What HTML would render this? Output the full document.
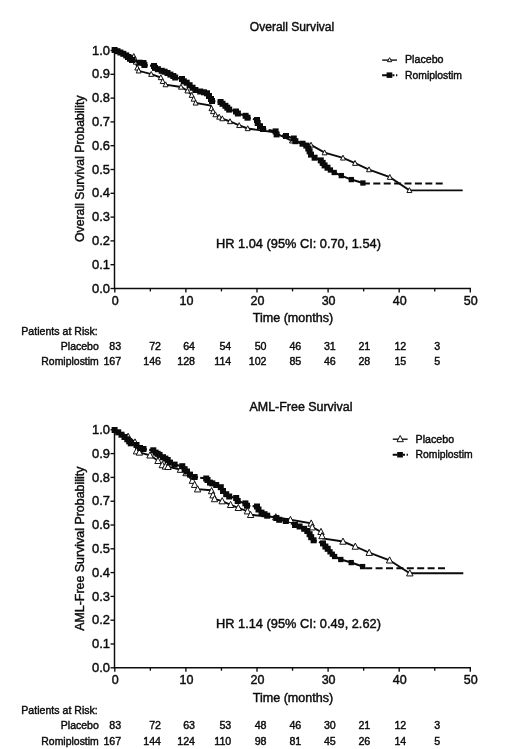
<!DOCTYPE html>
<html lang="en"><head><meta charset="utf-8"><title>Survival</title>
<style>
html,body{margin:0;padding:0;background:#fff}
body{width:520px;height:749px;overflow:hidden}
svg{display:block;font-family:"Liberation Sans",Arial,sans-serif;filter:blur(.35px)}
text{fill:#0c0c0c;stroke:#0c0c0c;stroke-width:.42px}
</style></head><body>
<svg width="520" height="749" viewBox="0 0 520 749">
<rect width="520" height="749" fill="#fff"/>
<text x="292" y="30.8" text-anchor="middle" font-size="12" textLength="84.5" lengthAdjust="spacingAndGlyphs">Overall Survival</text>
<path d="M114.5,50.0 V288.5 H471.0" fill="none" stroke="#0c0c0c" stroke-width="1.45"/>
<path d="M110.5,288.50 H115.0" stroke="#0c0c0c" stroke-width="1.35"/>
<text x="110.0" y="292.60" text-anchor="end" font-size="12.5" textLength="18" lengthAdjust="spacingAndGlyphs">0.0</text>
<path d="M110.5,264.70 H115.0" stroke="#0c0c0c" stroke-width="1.35"/>
<text x="110.0" y="268.80" text-anchor="end" font-size="12.5" textLength="18" lengthAdjust="spacingAndGlyphs">0.1</text>
<path d="M110.5,240.90 H115.0" stroke="#0c0c0c" stroke-width="1.35"/>
<text x="110.0" y="245.00" text-anchor="end" font-size="12.5" textLength="18" lengthAdjust="spacingAndGlyphs">0.2</text>
<path d="M110.5,217.10 H115.0" stroke="#0c0c0c" stroke-width="1.35"/>
<text x="110.0" y="221.20" text-anchor="end" font-size="12.5" textLength="18" lengthAdjust="spacingAndGlyphs">0.3</text>
<path d="M110.5,193.30 H115.0" stroke="#0c0c0c" stroke-width="1.35"/>
<text x="110.0" y="197.40" text-anchor="end" font-size="12.5" textLength="18" lengthAdjust="spacingAndGlyphs">0.4</text>
<path d="M110.5,169.50 H115.0" stroke="#0c0c0c" stroke-width="1.35"/>
<text x="110.0" y="173.60" text-anchor="end" font-size="12.5" textLength="18" lengthAdjust="spacingAndGlyphs">0.5</text>
<path d="M110.5,145.70 H115.0" stroke="#0c0c0c" stroke-width="1.35"/>
<text x="110.0" y="149.80" text-anchor="end" font-size="12.5" textLength="18" lengthAdjust="spacingAndGlyphs">0.6</text>
<path d="M110.5,121.90 H115.0" stroke="#0c0c0c" stroke-width="1.35"/>
<text x="110.0" y="126.00" text-anchor="end" font-size="12.5" textLength="18" lengthAdjust="spacingAndGlyphs">0.7</text>
<path d="M110.5,98.10 H115.0" stroke="#0c0c0c" stroke-width="1.35"/>
<text x="110.0" y="102.20" text-anchor="end" font-size="12.5" textLength="18" lengthAdjust="spacingAndGlyphs">0.8</text>
<path d="M110.5,74.30 H115.0" stroke="#0c0c0c" stroke-width="1.35"/>
<text x="110.0" y="78.40" text-anchor="end" font-size="12.5" textLength="18" lengthAdjust="spacingAndGlyphs">0.9</text>
<path d="M110.5,50.50 H115.0" stroke="#0c0c0c" stroke-width="1.35"/>
<text x="110.0" y="54.60" text-anchor="end" font-size="12.5" textLength="18" lengthAdjust="spacingAndGlyphs">1.0</text>
<path d="M114.80,288.5 v4" stroke="#0c0c0c" stroke-width="1.35"/>
<text x="115.30" y="304.6" text-anchor="middle" font-size="12.5">0</text>
<path d="M150.35,288.5 v2.9" stroke="#0c0c0c" stroke-width="1.35"/>
<path d="M185.90,288.5 v4" stroke="#0c0c0c" stroke-width="1.35"/>
<text x="186.40" y="304.6" text-anchor="middle" font-size="12.5">10</text>
<path d="M221.45,288.5 v2.9" stroke="#0c0c0c" stroke-width="1.35"/>
<path d="M257.00,288.5 v4" stroke="#0c0c0c" stroke-width="1.35"/>
<text x="257.50" y="304.6" text-anchor="middle" font-size="12.5">20</text>
<path d="M292.55,288.5 v2.9" stroke="#0c0c0c" stroke-width="1.35"/>
<path d="M328.10,288.5 v4" stroke="#0c0c0c" stroke-width="1.35"/>
<text x="328.60" y="304.6" text-anchor="middle" font-size="12.5">30</text>
<path d="M363.65,288.5 v2.9" stroke="#0c0c0c" stroke-width="1.35"/>
<path d="M399.20,288.5 v4" stroke="#0c0c0c" stroke-width="1.35"/>
<text x="399.70" y="304.6" text-anchor="middle" font-size="12.5">40</text>
<path d="M434.75,288.5 v2.9" stroke="#0c0c0c" stroke-width="1.35"/>
<path d="M470.30,288.5 v4" stroke="#0c0c0c" stroke-width="1.35"/>
<text x="470.80" y="304.6" text-anchor="middle" font-size="12.5">50</text>
<text x="293.0" y="321.9" text-anchor="middle" font-size="12" textLength="80.4" lengthAdjust="spacingAndGlyphs">Time (months)</text>
<text transform="translate(84,168.7) rotate(-90)" text-anchor="middle" font-size="12" textLength="146.6" lengthAdjust="spacingAndGlyphs">Overall Survival Probability</text>
<text x="216.1" y="248.0" font-size="12.2" textLength="164.8" lengthAdjust="spacingAndGlyphs">HR 1.04 (95% CI: 0.70, 1.54)</text>
<polyline points="115.0,50.5 133.8,56.3 134.8,59.2 135.8,62.0 137.3,67.9 138.7,70.8 151.2,74.2 160.8,77.5 162.7,81.3 165.6,84.6 181.0,87.0 187.4,90.8 191.7,95.2 193.6,99.0 195.6,102.9 210.8,105.6 211.5,108.5 213.0,111.5 215.4,114.6 219.2,117.0 222.3,118.6 230.0,121.5 239.2,125.4 247.7,128.5 272.7,132.0 292.0,140.8 311.0,145.0 324.6,152.7 343.0,157.9 355.0,163.2 369.0,169.6 389.8,177.2 409.4,190.4 462.7,190.4" fill="none" stroke="#0c0c0c" stroke-width="1.9"/>
<path d="M133.8,53.56 l2.5,4.9 h-5.0z" fill="#fff" stroke="#111" stroke-width="1"/>
<path d="M134.8,56.46 l2.5,4.9 h-5.0z" fill="#fff" stroke="#111" stroke-width="1"/>
<path d="M135.8,59.26 l2.5,4.9 h-5.0z" fill="#fff" stroke="#111" stroke-width="1"/>
<path d="M137.3,65.16 l2.5,4.9 h-5.0z" fill="#fff" stroke="#111" stroke-width="1"/>
<path d="M138.7,68.06 l2.5,4.9 h-5.0z" fill="#fff" stroke="#111" stroke-width="1"/>
<path d="M151.2,71.46 l2.5,4.9 h-5.0z" fill="#fff" stroke="#111" stroke-width="1"/>
<path d="M160.8,74.76 l2.5,4.9 h-5.0z" fill="#fff" stroke="#111" stroke-width="1"/>
<path d="M162.7,78.56 l2.5,4.9 h-5.0z" fill="#fff" stroke="#111" stroke-width="1"/>
<path d="M165.6,81.86 l2.5,4.9 h-5.0z" fill="#fff" stroke="#111" stroke-width="1"/>
<path d="M181.0,84.26 l2.5,4.9 h-5.0z" fill="#fff" stroke="#111" stroke-width="1"/>
<path d="M187.4,88.06 l2.5,4.9 h-5.0z" fill="#fff" stroke="#111" stroke-width="1"/>
<path d="M191.7,92.46 l2.5,4.9 h-5.0z" fill="#fff" stroke="#111" stroke-width="1"/>
<path d="M193.6,96.26 l2.5,4.9 h-5.0z" fill="#fff" stroke="#111" stroke-width="1"/>
<path d="M195.6,100.16 l2.5,4.9 h-5.0z" fill="#fff" stroke="#111" stroke-width="1"/>
<path d="M211.5,105.76 l2.5,4.9 h-5.0z" fill="#fff" stroke="#111" stroke-width="1"/>
<path d="M213.0,108.76 l2.5,4.9 h-5.0z" fill="#fff" stroke="#111" stroke-width="1"/>
<path d="M215.4,111.86 l2.5,4.9 h-5.0z" fill="#fff" stroke="#111" stroke-width="1"/>
<path d="M219.2,114.26 l2.5,4.9 h-5.0z" fill="#fff" stroke="#111" stroke-width="1"/>
<path d="M222.3,115.86 l2.5,4.9 h-5.0z" fill="#fff" stroke="#111" stroke-width="1"/>
<path d="M230.0,118.76 l2.5,4.9 h-5.0z" fill="#fff" stroke="#111" stroke-width="1"/>
<path d="M239.2,122.66 l2.5,4.9 h-5.0z" fill="#fff" stroke="#111" stroke-width="1"/>
<path d="M247.7,125.76 l2.5,4.9 h-5.0z" fill="#fff" stroke="#111" stroke-width="1"/>
<path d="M292.0,138.06 l2.5,4.9 h-5.0z" fill="#fff" stroke="#111" stroke-width="1"/>
<path d="M311.0,142.26 l2.5,4.9 h-5.0z" fill="#fff" stroke="#111" stroke-width="1"/>
<path d="M324.6,149.96 l2.5,4.9 h-5.0z" fill="#fff" stroke="#111" stroke-width="1"/>
<path d="M343.0,155.16 l2.5,4.9 h-5.0z" fill="#fff" stroke="#111" stroke-width="1"/>
<path d="M355.0,160.46 l2.5,4.9 h-5.0z" fill="#fff" stroke="#111" stroke-width="1"/>
<path d="M369.0,166.86 l2.5,4.9 h-5.0z" fill="#fff" stroke="#111" stroke-width="1"/>
<path d="M389.8,174.46 l2.5,4.9 h-5.0z" fill="#fff" stroke="#111" stroke-width="1"/>
<path d="M409.4,187.66 l2.5,4.9 h-5.0z" fill="#fff" stroke="#111" stroke-width="1"/>
<path d="M114.6,50.0L117.5,51.2M117.5,51.2L120.4,52.5M120.4,52.5L123.3,53.8M123.3,53.8L126.2,55.4M126.2,55.4L128.0,57.0M128.0,57.0L130.0,58.8M130.0,58.8L132.0,60.0M132.0,60.0L139.6,62.7M139.6,62.7L143.5,63.0M143.5,63.0L144.4,65.0M144.4,65.0L147.8,65.4M150.0,65.6L154.0,66.0M154.0,66.0L155.0,67.9M155.0,67.9L157.9,69.2M157.9,69.2L161.7,70.8M161.7,70.8L164.6,71.7M164.6,71.7L167.5,73.0M167.5,73.0L170.4,74.6M170.4,74.6L173.3,76.0M173.3,76.0L175.2,77.5M175.2,77.5L182.0,79.0M182.0,79.0L183.8,81.3M183.8,81.3L186.7,82.7M186.7,82.7L189.6,85.2M189.6,85.2L192.5,87.7M192.5,87.7L195.4,90.0M195.4,90.0L200.2,91.5M200.2,91.5L204.0,92.3M204.0,92.3L207.0,93.3M207.0,93.3L209.0,96.0M209.0,96.0L211.0,99.0M211.0,99.0L212.0,101.0M212.0,101.0L215.4,101.4M217.6,101.6L220.6,102.0M220.6,102.0L222.5,103.8M222.5,103.8L225.4,105.8M225.4,105.8L227.3,107.7M227.3,107.7L229.2,109.6M229.2,109.6L236.0,111.5M236.0,111.5L237.9,113.5M237.9,113.5L245.6,115.8M245.6,115.8L247.5,117.7M247.5,117.7L250.8,118.5M252.9,119.0L257.0,120.0M257.0,120.0L257.7,123.0M257.7,123.0L260.0,126.2M260.0,126.2L263.0,129.0M263.0,129.0L266.3,129.6M268.5,130.0L275.6,131.4M275.6,131.4L276.6,134.4M276.6,134.4L280.0,135.0M282.1,135.3L286.0,136.0M286.0,136.0L293.8,138.5M293.8,138.5L295.4,141.2M295.4,141.2L302.5,143.7M302.5,143.7L306.3,145.6M306.3,145.6L308.3,148.5M308.3,148.5L309.6,151.3M309.6,151.3L311.0,154.6M311.0,154.6L314.6,157.7M314.6,157.7L320.8,160.4M320.8,160.4L322.7,162.9M322.7,162.9L324.6,165.4M324.6,165.4L327.5,167.7M327.5,167.7L330.4,170.0M330.4,170.0L334.2,172.5M334.2,172.5L341.3,175.6M341.3,175.6L351.3,179.6M351.3,179.6L362.9,183.0" fill="none" stroke="#0a0a0a" stroke-width="2.1"/>
<path d="M362.9,183.4 H442.7" stroke="#0a0a0a" stroke-width="2" stroke-dasharray="7 3.4" fill="none"/>
<rect x="111.60" y="47.00" width="6.0" height="6.0" fill="#0a0a0a"/>
<rect x="114.50" y="48.20" width="6.0" height="6.0" fill="#0a0a0a"/>
<rect x="117.40" y="49.50" width="6.0" height="6.0" fill="#0a0a0a"/>
<rect x="120.30" y="50.80" width="6.0" height="6.0" fill="#0a0a0a"/>
<rect x="123.20" y="52.40" width="6.0" height="6.0" fill="#0a0a0a"/>
<rect x="125.00" y="54.00" width="6.0" height="6.0" fill="#0a0a0a"/>
<rect x="127.00" y="55.80" width="6.0" height="6.0" fill="#0a0a0a"/>
<rect x="129.00" y="57.00" width="6.0" height="6.0" fill="#0a0a0a"/>
<rect x="136.60" y="59.70" width="6.0" height="6.0" fill="#0a0a0a"/>
<rect x="140.50" y="60.00" width="6.0" height="6.0" fill="#0a0a0a"/>
<rect x="141.40" y="62.00" width="6.0" height="6.0" fill="#0a0a0a"/>
<rect x="151.00" y="63.00" width="6.0" height="6.0" fill="#0a0a0a"/>
<rect x="152.00" y="64.90" width="6.0" height="6.0" fill="#0a0a0a"/>
<rect x="154.90" y="66.20" width="6.0" height="6.0" fill="#0a0a0a"/>
<rect x="158.70" y="67.80" width="6.0" height="6.0" fill="#0a0a0a"/>
<rect x="161.60" y="68.70" width="6.0" height="6.0" fill="#0a0a0a"/>
<rect x="164.50" y="70.00" width="6.0" height="6.0" fill="#0a0a0a"/>
<rect x="167.40" y="71.60" width="6.0" height="6.0" fill="#0a0a0a"/>
<rect x="170.30" y="73.00" width="6.0" height="6.0" fill="#0a0a0a"/>
<rect x="172.20" y="74.50" width="6.0" height="6.0" fill="#0a0a0a"/>
<rect x="179.00" y="76.00" width="6.0" height="6.0" fill="#0a0a0a"/>
<rect x="180.80" y="78.30" width="6.0" height="6.0" fill="#0a0a0a"/>
<rect x="183.70" y="79.70" width="6.0" height="6.0" fill="#0a0a0a"/>
<rect x="186.60" y="82.20" width="6.0" height="6.0" fill="#0a0a0a"/>
<rect x="189.50" y="84.70" width="6.0" height="6.0" fill="#0a0a0a"/>
<rect x="192.40" y="87.00" width="6.0" height="6.0" fill="#0a0a0a"/>
<rect x="197.20" y="88.50" width="6.0" height="6.0" fill="#0a0a0a"/>
<rect x="201.00" y="89.30" width="6.0" height="6.0" fill="#0a0a0a"/>
<rect x="204.00" y="90.30" width="6.0" height="6.0" fill="#0a0a0a"/>
<rect x="206.00" y="93.00" width="6.0" height="6.0" fill="#0a0a0a"/>
<rect x="208.00" y="96.00" width="6.0" height="6.0" fill="#0a0a0a"/>
<rect x="209.00" y="98.00" width="6.0" height="6.0" fill="#0a0a0a"/>
<rect x="217.60" y="99.00" width="6.0" height="6.0" fill="#0a0a0a"/>
<rect x="219.50" y="100.80" width="6.0" height="6.0" fill="#0a0a0a"/>
<rect x="222.40" y="102.80" width="6.0" height="6.0" fill="#0a0a0a"/>
<rect x="224.30" y="104.70" width="6.0" height="6.0" fill="#0a0a0a"/>
<rect x="226.20" y="106.60" width="6.0" height="6.0" fill="#0a0a0a"/>
<rect x="233.00" y="108.50" width="6.0" height="6.0" fill="#0a0a0a"/>
<rect x="234.90" y="110.50" width="6.0" height="6.0" fill="#0a0a0a"/>
<rect x="242.60" y="112.80" width="6.0" height="6.0" fill="#0a0a0a"/>
<rect x="244.50" y="114.70" width="6.0" height="6.0" fill="#0a0a0a"/>
<rect x="254.00" y="117.00" width="6.0" height="6.0" fill="#0a0a0a"/>
<rect x="254.70" y="120.00" width="6.0" height="6.0" fill="#0a0a0a"/>
<rect x="257.00" y="123.20" width="6.0" height="6.0" fill="#0a0a0a"/>
<rect x="260.00" y="126.00" width="6.0" height="6.0" fill="#0a0a0a"/>
<rect x="272.60" y="128.40" width="6.0" height="6.0" fill="#0a0a0a"/>
<rect x="273.60" y="131.40" width="6.0" height="6.0" fill="#0a0a0a"/>
<rect x="283.00" y="133.00" width="6.0" height="6.0" fill="#0a0a0a"/>
<rect x="290.80" y="135.50" width="6.0" height="6.0" fill="#0a0a0a"/>
<rect x="292.40" y="138.20" width="6.0" height="6.0" fill="#0a0a0a"/>
<rect x="299.50" y="140.70" width="6.0" height="6.0" fill="#0a0a0a"/>
<rect x="303.30" y="142.60" width="6.0" height="6.0" fill="#0a0a0a"/>
<rect x="305.30" y="145.50" width="6.0" height="6.0" fill="#0a0a0a"/>
<rect x="306.60" y="148.30" width="6.0" height="6.0" fill="#0a0a0a"/>
<rect x="308.00" y="151.60" width="6.0" height="6.0" fill="#0a0a0a"/>
<rect x="311.60" y="154.70" width="6.0" height="6.0" fill="#0a0a0a"/>
<rect x="317.80" y="157.40" width="6.0" height="6.0" fill="#0a0a0a"/>
<rect x="319.70" y="159.90" width="6.0" height="6.0" fill="#0a0a0a"/>
<rect x="321.60" y="162.40" width="6.0" height="6.0" fill="#0a0a0a"/>
<rect x="324.50" y="164.70" width="6.0" height="6.0" fill="#0a0a0a"/>
<rect x="327.75" y="167.35" width="5.3" height="5.3" fill="#0a0a0a"/>
<rect x="331.55" y="169.85" width="5.3" height="5.3" fill="#0a0a0a"/>
<rect x="338.65" y="172.95" width="5.3" height="5.3" fill="#0a0a0a"/>
<rect x="348.65" y="176.95" width="5.3" height="5.3" fill="#0a0a0a"/>
<rect x="360.25" y="180.35" width="5.3" height="5.3" fill="#0a0a0a"/>
<path d="M382.20000000000005,60.1 h14.8" stroke="#111" stroke-width="1.4"/>
<path d="M389.6,57.70 l2.15,4.0 h-4.3z" fill="#fff" stroke="#111" stroke-width="1"/>
<text x="405.0" y="63.1" font-size="10.67" textLength="38.5" lengthAdjust="spacingAndGlyphs">Placebo</text>
<path d="M382.1,75.2 h5 M392.40000000000003,75.2 h2 M396.0,75.2 h1.3" stroke="#0a0a0a" stroke-width="2"/>
<rect x="386.6" y="72.4" width="5.7" height="5.5" fill="#0a0a0a"/>
<text x="405.0" y="78.7" font-size="10.67" textLength="57" lengthAdjust="spacingAndGlyphs">Romiplostim</text>
<text x="21.3" y="334.6" font-size="10.67" textLength="76.5" lengthAdjust="spacingAndGlyphs">Patients at Risk:</text>
<text x="98.8" y="349.6" text-anchor="end" font-size="10.67" textLength="38" lengthAdjust="spacingAndGlyphs">Placebo</text>
<text x="98.8" y="365.4" text-anchor="end" font-size="10.67" textLength="57.5" lengthAdjust="spacingAndGlyphs">Romiplostim</text>
<text x="121.2" y="349.6" text-anchor="end" font-size="10.67">83</text>
<text x="121.2" y="365.4" text-anchor="end" font-size="10.67">167</text>
<text x="161" y="349.6" text-anchor="end" font-size="10.67">72</text>
<text x="161" y="365.4" text-anchor="end" font-size="10.67">146</text>
<text x="195" y="349.6" text-anchor="end" font-size="10.67">64</text>
<text x="195" y="365.4" text-anchor="end" font-size="10.67">128</text>
<text x="231.3" y="349.6" text-anchor="end" font-size="10.67">54</text>
<text x="231.3" y="365.4" text-anchor="end" font-size="10.67">114</text>
<text x="266.5" y="349.6" text-anchor="end" font-size="10.67">50</text>
<text x="266.5" y="365.4" text-anchor="end" font-size="10.67">102</text>
<text x="301.3" y="349.6" text-anchor="end" font-size="10.67">46</text>
<text x="301.3" y="365.4" text-anchor="end" font-size="10.67">85</text>
<text x="335.8" y="349.6" text-anchor="end" font-size="10.67">31</text>
<text x="335.8" y="365.4" text-anchor="end" font-size="10.67">46</text>
<text x="370.3" y="349.6" text-anchor="end" font-size="10.67">21</text>
<text x="370.3" y="365.4" text-anchor="end" font-size="10.67">28</text>
<text x="406.3" y="349.6" text-anchor="end" font-size="10.67">12</text>
<text x="406.3" y="365.4" text-anchor="end" font-size="10.67">15</text>
<text x="440.3" y="349.6" text-anchor="end" font-size="10.67">3</text>
<text x="440.3" y="365.4" text-anchor="end" font-size="10.67">5</text>
<text x="301" y="411.2" text-anchor="middle" font-size="12" textLength="103" lengthAdjust="spacingAndGlyphs">AML-Free Survival</text>
<path d="M114.5,429.3 V667.8 H471.0" fill="none" stroke="#0c0c0c" stroke-width="1.45"/>
<path d="M110.5,667.80 H115.0" stroke="#0c0c0c" stroke-width="1.35"/>
<text x="110.0" y="671.90" text-anchor="end" font-size="12.5" textLength="18" lengthAdjust="spacingAndGlyphs">0.0</text>
<path d="M110.5,644.00 H115.0" stroke="#0c0c0c" stroke-width="1.35"/>
<text x="110.0" y="648.10" text-anchor="end" font-size="12.5" textLength="18" lengthAdjust="spacingAndGlyphs">0.1</text>
<path d="M110.5,620.20 H115.0" stroke="#0c0c0c" stroke-width="1.35"/>
<text x="110.0" y="624.30" text-anchor="end" font-size="12.5" textLength="18" lengthAdjust="spacingAndGlyphs">0.2</text>
<path d="M110.5,596.40 H115.0" stroke="#0c0c0c" stroke-width="1.35"/>
<text x="110.0" y="600.50" text-anchor="end" font-size="12.5" textLength="18" lengthAdjust="spacingAndGlyphs">0.3</text>
<path d="M110.5,572.60 H115.0" stroke="#0c0c0c" stroke-width="1.35"/>
<text x="110.0" y="576.70" text-anchor="end" font-size="12.5" textLength="18" lengthAdjust="spacingAndGlyphs">0.4</text>
<path d="M110.5,548.80 H115.0" stroke="#0c0c0c" stroke-width="1.35"/>
<text x="110.0" y="552.90" text-anchor="end" font-size="12.5" textLength="18" lengthAdjust="spacingAndGlyphs">0.5</text>
<path d="M110.5,525.00 H115.0" stroke="#0c0c0c" stroke-width="1.35"/>
<text x="110.0" y="529.10" text-anchor="end" font-size="12.5" textLength="18" lengthAdjust="spacingAndGlyphs">0.6</text>
<path d="M110.5,501.20 H115.0" stroke="#0c0c0c" stroke-width="1.35"/>
<text x="110.0" y="505.30" text-anchor="end" font-size="12.5" textLength="18" lengthAdjust="spacingAndGlyphs">0.7</text>
<path d="M110.5,477.40 H115.0" stroke="#0c0c0c" stroke-width="1.35"/>
<text x="110.0" y="481.50" text-anchor="end" font-size="12.5" textLength="18" lengthAdjust="spacingAndGlyphs">0.8</text>
<path d="M110.5,453.60 H115.0" stroke="#0c0c0c" stroke-width="1.35"/>
<text x="110.0" y="457.70" text-anchor="end" font-size="12.5" textLength="18" lengthAdjust="spacingAndGlyphs">0.9</text>
<path d="M110.5,429.80 H115.0" stroke="#0c0c0c" stroke-width="1.35"/>
<text x="110.0" y="433.90" text-anchor="end" font-size="12.5" textLength="18" lengthAdjust="spacingAndGlyphs">1.0</text>
<path d="M114.80,667.8 v4" stroke="#0c0c0c" stroke-width="1.35"/>
<text x="115.30" y="683.9" text-anchor="middle" font-size="12.5">0</text>
<path d="M150.35,667.8 v2.9" stroke="#0c0c0c" stroke-width="1.35"/>
<path d="M185.90,667.8 v4" stroke="#0c0c0c" stroke-width="1.35"/>
<text x="186.40" y="683.9" text-anchor="middle" font-size="12.5">10</text>
<path d="M221.45,667.8 v2.9" stroke="#0c0c0c" stroke-width="1.35"/>
<path d="M257.00,667.8 v4" stroke="#0c0c0c" stroke-width="1.35"/>
<text x="257.50" y="683.9" text-anchor="middle" font-size="12.5">20</text>
<path d="M292.55,667.8 v2.9" stroke="#0c0c0c" stroke-width="1.35"/>
<path d="M328.10,667.8 v4" stroke="#0c0c0c" stroke-width="1.35"/>
<text x="328.60" y="683.9" text-anchor="middle" font-size="12.5">30</text>
<path d="M363.65,667.8 v2.9" stroke="#0c0c0c" stroke-width="1.35"/>
<path d="M399.20,667.8 v4" stroke="#0c0c0c" stroke-width="1.35"/>
<text x="399.70" y="683.9" text-anchor="middle" font-size="12.5">40</text>
<path d="M434.75,667.8 v2.9" stroke="#0c0c0c" stroke-width="1.35"/>
<path d="M470.30,667.8 v4" stroke="#0c0c0c" stroke-width="1.35"/>
<text x="470.80" y="683.9" text-anchor="middle" font-size="12.5">50</text>
<text x="293.0" y="701.9" text-anchor="middle" font-size="12" textLength="80.4" lengthAdjust="spacingAndGlyphs">Time (months)</text>
<text transform="translate(84,548.7) rotate(-90)" text-anchor="middle" font-size="12" textLength="164.2" lengthAdjust="spacingAndGlyphs">AML-Free Survival Probability</text>
<text x="216.1" y="628.4" font-size="12.2" textLength="164.8" lengthAdjust="spacingAndGlyphs">HR 1.14 (95% CI: 0.49, 2.62)</text>
<polyline points="115.0,430.0 128.1,436.6 135.0,442.3 136.5,451.2 139.4,452.4 150.0,455.3 158.0,460.8 162.3,465.0 165.4,466.4 168.0,466.8 180.5,469.6 186.0,473.0 192.4,480.6 194.6,484.7 197.6,489.2 210.8,490.2 211.6,491.0 213.0,495.2 214.5,499.0 222.2,501.1 230.6,504.8 238.3,507.8 247.4,511.2 250.6,514.8 275.8,517.2 290.4,519.8 311.2,523.4 312.2,527.2 321.0,531.8 322.0,536.0 322.7,538.4 343.0,541.5 355.3,546.5 369.2,552.7 389.6,560.3 409.8,573.2 463.3,573.2" fill="none" stroke="#0c0c0c" stroke-width="1.9"/>
<path d="M128.1,433.13 l3.2,6.2 h-6.4z" fill="#fff" stroke="#111" stroke-width="1"/>
<path d="M135.0,438.83 l3.2,6.2 h-6.4z" fill="#fff" stroke="#111" stroke-width="1"/>
<path d="M136.5,447.73 l3.2,6.2 h-6.4z" fill="#fff" stroke="#111" stroke-width="1"/>
<path d="M139.4,448.93 l3.2,6.2 h-6.4z" fill="#fff" stroke="#111" stroke-width="1"/>
<path d="M150.0,451.83 l3.2,6.2 h-6.4z" fill="#fff" stroke="#111" stroke-width="1"/>
<path d="M158.0,457.33 l3.2,6.2 h-6.4z" fill="#fff" stroke="#111" stroke-width="1"/>
<path d="M162.3,461.53 l3.2,6.2 h-6.4z" fill="#fff" stroke="#111" stroke-width="1"/>
<path d="M165.4,462.93 l3.2,6.2 h-6.4z" fill="#fff" stroke="#111" stroke-width="1"/>
<path d="M168.0,463.33 l3.2,6.2 h-6.4z" fill="#fff" stroke="#111" stroke-width="1"/>
<path d="M180.5,466.13 l3.2,6.2 h-6.4z" fill="#fff" stroke="#111" stroke-width="1"/>
<path d="M186.0,469.53 l3.2,6.2 h-6.4z" fill="#fff" stroke="#111" stroke-width="1"/>
<path d="M192.4,477.13 l3.2,6.2 h-6.4z" fill="#fff" stroke="#111" stroke-width="1"/>
<path d="M194.6,481.23 l3.2,6.2 h-6.4z" fill="#fff" stroke="#111" stroke-width="1"/>
<path d="M197.6,485.73 l3.2,6.2 h-6.4z" fill="#fff" stroke="#111" stroke-width="1"/>
<path d="M211.6,487.53 l3.2,6.2 h-6.4z" fill="#fff" stroke="#111" stroke-width="1"/>
<path d="M213.0,491.73 l3.2,6.2 h-6.4z" fill="#fff" stroke="#111" stroke-width="1"/>
<path d="M214.5,495.53 l3.2,6.2 h-6.4z" fill="#fff" stroke="#111" stroke-width="1"/>
<path d="M222.2,497.63 l3.2,6.2 h-6.4z" fill="#fff" stroke="#111" stroke-width="1"/>
<path d="M230.6,501.33 l3.2,6.2 h-6.4z" fill="#fff" stroke="#111" stroke-width="1"/>
<path d="M238.3,504.33 l3.2,6.2 h-6.4z" fill="#fff" stroke="#111" stroke-width="1"/>
<path d="M247.4,507.73 l3.2,6.2 h-6.4z" fill="#fff" stroke="#111" stroke-width="1"/>
<path d="M250.6,511.33 l3.2,6.2 h-6.4z" fill="#fff" stroke="#111" stroke-width="1"/>
<path d="M275.8,513.73 l3.2,6.2 h-6.4z" fill="#fff" stroke="#111" stroke-width="1"/>
<path d="M290.4,516.33 l3.2,6.2 h-6.4z" fill="#fff" stroke="#111" stroke-width="1"/>
<path d="M311.2,519.93 l3.2,6.2 h-6.4z" fill="#fff" stroke="#111" stroke-width="1"/>
<path d="M312.2,523.73 l3.2,6.2 h-6.4z" fill="#fff" stroke="#111" stroke-width="1"/>
<path d="M321.0,528.33 l3.2,6.2 h-6.4z" fill="#fff" stroke="#111" stroke-width="1"/>
<path d="M322.0,532.53 l3.2,6.2 h-6.4z" fill="#fff" stroke="#111" stroke-width="1"/>
<path d="M343.0,538.03 l3.2,6.2 h-6.4z" fill="#fff" stroke="#111" stroke-width="1"/>
<path d="M355.3,543.03 l3.2,6.2 h-6.4z" fill="#fff" stroke="#111" stroke-width="1"/>
<path d="M369.2,549.23 l3.2,6.2 h-6.4z" fill="#fff" stroke="#111" stroke-width="1"/>
<path d="M389.6,556.83 l3.2,6.2 h-6.4z" fill="#fff" stroke="#111" stroke-width="1"/>
<path d="M409.8,569.73 l3.2,6.2 h-6.4z" fill="#fff" stroke="#111" stroke-width="1"/>
<path d="M114.6,430.0L118.2,432.3M118.2,432.3L121.5,434.7M121.5,434.7L124.5,437.0M124.5,437.0L127.3,439.3M127.3,439.3L129.2,441.4M129.2,441.4L130.8,443.3M130.8,443.3L136.5,445.0M136.5,445.0L140.0,448.0M140.0,448.0L143.5,449.0M143.5,449.0L146.9,449.4M149.1,449.7L153.3,450.3M153.3,450.3L155.6,452.6M155.6,452.6L157.6,453.8M157.6,453.8L159.6,454.9M159.6,454.9L163.0,457.2M163.0,457.2L165.4,458.6M165.4,458.6L167.7,460.0M167.7,460.0L170.0,462.6M170.0,462.6L174.6,464.6M174.6,464.6L182.3,466.2M182.3,466.2L184.6,469.2M184.6,469.2L187.0,471.5M187.0,471.5L190.0,474.6M190.0,474.6L194.6,477.0M194.6,477.0L198.0,477.4M200.2,477.7L206.2,478.5M206.2,478.5L207.5,480.0M207.5,480.0L210.0,482.6M210.0,482.6L212.3,483.4M212.3,483.4L216.2,485.0M216.2,485.0L220.8,487.2M220.8,487.2L223.0,491.0M223.0,491.0L226.2,494.2M226.2,494.2L229.2,496.5M229.2,496.5L236.2,498.0M236.2,498.0L237.7,501.0M237.7,501.0L245.4,503.4M245.4,503.4L247.0,505.7M247.0,505.7L250.4,506.0M252.6,506.1L257.0,506.5M257.0,506.5L258.5,509.5M258.5,509.5L261.5,512.6M261.5,512.6L264.5,514.2M264.5,514.2L267.2,515.7M267.2,515.7L270.5,516.5M272.6,517.1L276.4,518.0M276.4,518.0L279.2,519.8M279.2,519.8L285.8,521.0M285.8,521.0L288.9,522.4M290.9,523.2L295.0,525.0M295.0,525.0L299.6,526.5M299.6,526.5L304.2,528.8M304.2,528.8L307.3,531.0M307.3,531.0L309.6,534.2M309.6,534.2L311.2,537.2M311.2,537.2L313.6,540.3M313.6,540.3L316.8,541.4M318.9,542.1L323.0,543.4M323.0,543.4L325.4,546.5M325.4,546.5L327.7,548.8M327.7,548.8L330.0,551.8M330.0,551.8L332.3,554.2M332.3,554.2L334.6,556.5M334.6,556.5L340.8,559.5M340.8,559.5L351.2,562.6M351.2,562.6L362.6,566.6" fill="none" stroke="#0a0a0a" stroke-width="2.1"/>
<path d="M365.2,568.2 H445" stroke="#0a0a0a" stroke-width="2" stroke-dasharray="7 3.4" fill="none"/>
<rect x="111.60" y="427.00" width="6.0" height="6.0" fill="#0a0a0a"/>
<rect x="115.20" y="429.30" width="6.0" height="6.0" fill="#0a0a0a"/>
<rect x="118.50" y="431.70" width="6.0" height="6.0" fill="#0a0a0a"/>
<rect x="121.50" y="434.00" width="6.0" height="6.0" fill="#0a0a0a"/>
<rect x="124.30" y="436.30" width="6.0" height="6.0" fill="#0a0a0a"/>
<rect x="126.20" y="438.40" width="6.0" height="6.0" fill="#0a0a0a"/>
<rect x="127.80" y="440.30" width="6.0" height="6.0" fill="#0a0a0a"/>
<rect x="133.50" y="442.00" width="6.0" height="6.0" fill="#0a0a0a"/>
<rect x="137.00" y="445.00" width="6.0" height="6.0" fill="#0a0a0a"/>
<rect x="140.50" y="446.00" width="6.0" height="6.0" fill="#0a0a0a"/>
<rect x="150.30" y="447.30" width="6.0" height="6.0" fill="#0a0a0a"/>
<rect x="152.60" y="449.60" width="6.0" height="6.0" fill="#0a0a0a"/>
<rect x="154.60" y="450.80" width="6.0" height="6.0" fill="#0a0a0a"/>
<rect x="156.60" y="451.90" width="6.0" height="6.0" fill="#0a0a0a"/>
<rect x="160.00" y="454.20" width="6.0" height="6.0" fill="#0a0a0a"/>
<rect x="162.40" y="455.60" width="6.0" height="6.0" fill="#0a0a0a"/>
<rect x="164.70" y="457.00" width="6.0" height="6.0" fill="#0a0a0a"/>
<rect x="167.00" y="459.60" width="6.0" height="6.0" fill="#0a0a0a"/>
<rect x="171.60" y="461.60" width="6.0" height="6.0" fill="#0a0a0a"/>
<rect x="179.30" y="463.20" width="6.0" height="6.0" fill="#0a0a0a"/>
<rect x="181.60" y="466.20" width="6.0" height="6.0" fill="#0a0a0a"/>
<rect x="184.00" y="468.50" width="6.0" height="6.0" fill="#0a0a0a"/>
<rect x="187.00" y="471.60" width="6.0" height="6.0" fill="#0a0a0a"/>
<rect x="191.60" y="474.00" width="6.0" height="6.0" fill="#0a0a0a"/>
<rect x="203.20" y="475.50" width="6.0" height="6.0" fill="#0a0a0a"/>
<rect x="204.50" y="477.00" width="6.0" height="6.0" fill="#0a0a0a"/>
<rect x="207.00" y="479.60" width="6.0" height="6.0" fill="#0a0a0a"/>
<rect x="209.30" y="480.40" width="6.0" height="6.0" fill="#0a0a0a"/>
<rect x="213.20" y="482.00" width="6.0" height="6.0" fill="#0a0a0a"/>
<rect x="217.80" y="484.20" width="6.0" height="6.0" fill="#0a0a0a"/>
<rect x="220.00" y="488.00" width="6.0" height="6.0" fill="#0a0a0a"/>
<rect x="223.20" y="491.20" width="6.0" height="6.0" fill="#0a0a0a"/>
<rect x="226.20" y="493.50" width="6.0" height="6.0" fill="#0a0a0a"/>
<rect x="233.20" y="495.00" width="6.0" height="6.0" fill="#0a0a0a"/>
<rect x="234.70" y="498.00" width="6.0" height="6.0" fill="#0a0a0a"/>
<rect x="242.40" y="500.40" width="6.0" height="6.0" fill="#0a0a0a"/>
<rect x="244.00" y="502.70" width="6.0" height="6.0" fill="#0a0a0a"/>
<rect x="254.00" y="503.50" width="6.0" height="6.0" fill="#0a0a0a"/>
<rect x="255.50" y="506.50" width="6.0" height="6.0" fill="#0a0a0a"/>
<rect x="258.50" y="509.60" width="6.0" height="6.0" fill="#0a0a0a"/>
<rect x="261.50" y="511.20" width="6.0" height="6.0" fill="#0a0a0a"/>
<rect x="264.20" y="512.70" width="6.0" height="6.0" fill="#0a0a0a"/>
<rect x="273.40" y="515.00" width="6.0" height="6.0" fill="#0a0a0a"/>
<rect x="276.20" y="516.80" width="6.0" height="6.0" fill="#0a0a0a"/>
<rect x="282.80" y="518.00" width="6.0" height="6.0" fill="#0a0a0a"/>
<rect x="292.00" y="522.00" width="6.0" height="6.0" fill="#0a0a0a"/>
<rect x="296.60" y="523.50" width="6.0" height="6.0" fill="#0a0a0a"/>
<rect x="301.20" y="525.80" width="6.0" height="6.0" fill="#0a0a0a"/>
<rect x="304.30" y="528.00" width="6.0" height="6.0" fill="#0a0a0a"/>
<rect x="306.60" y="531.20" width="6.0" height="6.0" fill="#0a0a0a"/>
<rect x="308.20" y="534.20" width="6.0" height="6.0" fill="#0a0a0a"/>
<rect x="310.60" y="537.30" width="6.0" height="6.0" fill="#0a0a0a"/>
<rect x="320.00" y="540.40" width="6.0" height="6.0" fill="#0a0a0a"/>
<rect x="322.40" y="543.50" width="6.0" height="6.0" fill="#0a0a0a"/>
<rect x="324.70" y="545.80" width="6.0" height="6.0" fill="#0a0a0a"/>
<rect x="327.35" y="549.15" width="5.3" height="5.3" fill="#0a0a0a"/>
<rect x="329.65" y="551.55" width="5.3" height="5.3" fill="#0a0a0a"/>
<rect x="331.95" y="553.85" width="5.3" height="5.3" fill="#0a0a0a"/>
<rect x="338.15" y="556.85" width="5.3" height="5.3" fill="#0a0a0a"/>
<rect x="348.55" y="559.95" width="5.3" height="5.3" fill="#0a0a0a"/>
<rect x="359.95" y="563.95" width="5.3" height="5.3" fill="#0a0a0a"/>
<path d="M392.8,439.2 h14.8" stroke="#111" stroke-width="1.4"/>
<path d="M400.2,435.48 l3.2,6.2 h-6.4z" fill="#fff" stroke="#111" stroke-width="1"/>
<text x="415.6" y="442.5" font-size="10.67" textLength="38.5" lengthAdjust="spacingAndGlyphs">Placebo</text>
<path d="M392.7,454.8 h5 M403.0,454.8 h2 M406.59999999999997,454.8 h1.3" stroke="#0a0a0a" stroke-width="2"/>
<rect x="397.2" y="452.0" width="5.7" height="5.5" fill="#0a0a0a"/>
<text x="415.6" y="458.3" font-size="10.67" textLength="57" lengthAdjust="spacingAndGlyphs">Romiplostim</text>
<text x="21.3" y="713.5" font-size="10.67" textLength="76.5" lengthAdjust="spacingAndGlyphs">Patients at Risk:</text>
<text x="98.8" y="729.0" text-anchor="end" font-size="10.67" textLength="38" lengthAdjust="spacingAndGlyphs">Placebo</text>
<text x="98.8" y="744.6" text-anchor="end" font-size="10.67" textLength="57.5" lengthAdjust="spacingAndGlyphs">Romiplostim</text>
<text x="121.2" y="729.0" text-anchor="end" font-size="10.67">83</text>
<text x="121.2" y="744.6" text-anchor="end" font-size="10.67">167</text>
<text x="161" y="729.0" text-anchor="end" font-size="10.67">72</text>
<text x="161" y="744.6" text-anchor="end" font-size="10.67">144</text>
<text x="195" y="729.0" text-anchor="end" font-size="10.67">63</text>
<text x="195" y="744.6" text-anchor="end" font-size="10.67">124</text>
<text x="231.3" y="729.0" text-anchor="end" font-size="10.67">53</text>
<text x="231.3" y="744.6" text-anchor="end" font-size="10.67">110</text>
<text x="266.5" y="729.0" text-anchor="end" font-size="10.67">48</text>
<text x="266.5" y="744.6" text-anchor="end" font-size="10.67">98</text>
<text x="301.3" y="729.0" text-anchor="end" font-size="10.67">46</text>
<text x="301.3" y="744.6" text-anchor="end" font-size="10.67">81</text>
<text x="335.8" y="729.0" text-anchor="end" font-size="10.67">30</text>
<text x="335.8" y="744.6" text-anchor="end" font-size="10.67">45</text>
<text x="370.3" y="729.0" text-anchor="end" font-size="10.67">21</text>
<text x="370.3" y="744.6" text-anchor="end" font-size="10.67">26</text>
<text x="406.3" y="729.0" text-anchor="end" font-size="10.67">12</text>
<text x="406.3" y="744.6" text-anchor="end" font-size="10.67">14</text>
<text x="440.3" y="729.0" text-anchor="end" font-size="10.67">3</text>
<text x="440.3" y="744.6" text-anchor="end" font-size="10.67">5</text>
</svg>
</body></html>
